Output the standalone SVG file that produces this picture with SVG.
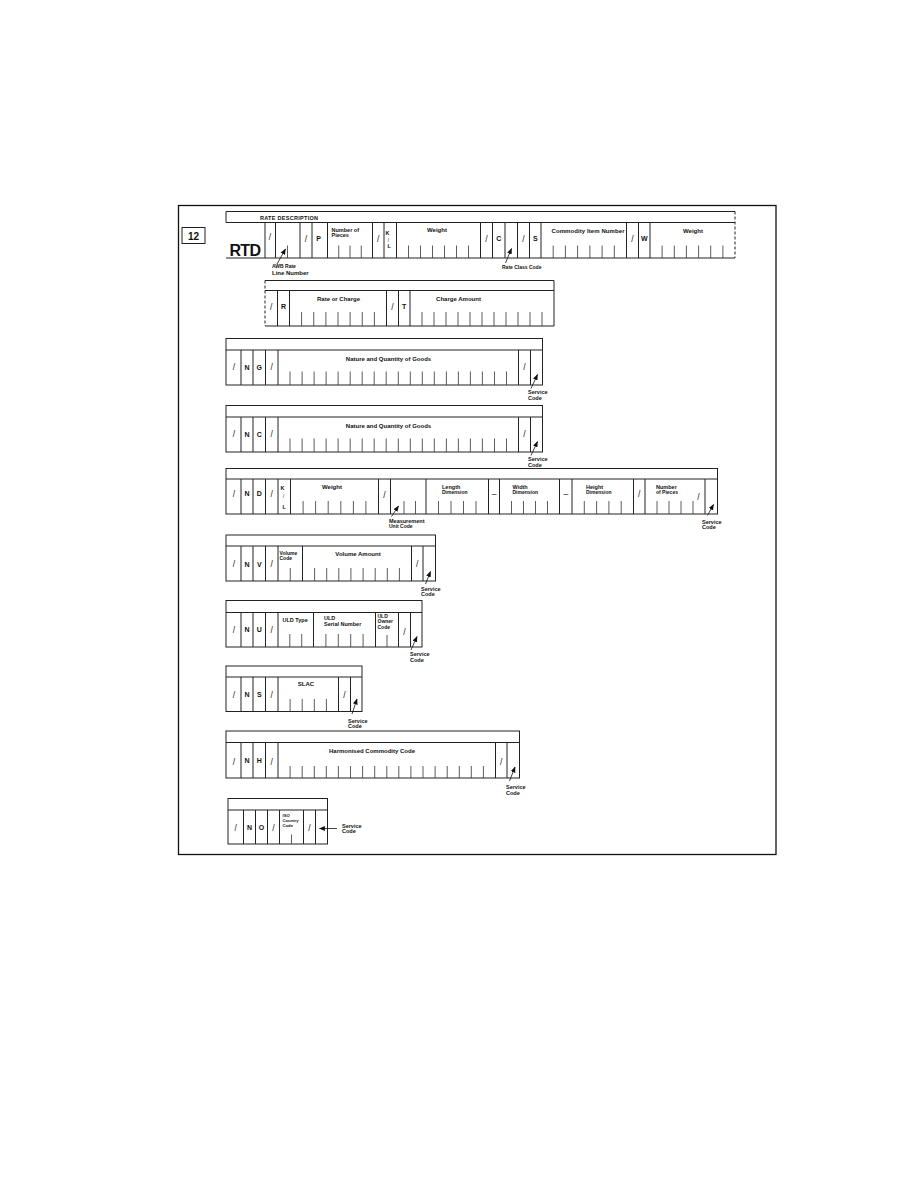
<svg xmlns="http://www.w3.org/2000/svg" width="918" height="1188" viewBox="0 0 918 1188">
<defs>
<style>
.frame{fill:none;stroke:#111;stroke-width:1.3}
.bx{fill:none;stroke:#222;stroke-width:1}
.dash{fill:none;stroke:#222;stroke-width:1;stroke-dasharray:3,2}
.tk{fill:none;stroke:#333;stroke-width:0.8}
.ar{fill:none;stroke:#111;stroke-width:0.8}
.t{font-family:"Liberation Sans",Arial,Helvetica,sans-serif;font-weight:bold;fill:#111}
.f4{font-size:4.2px}
.f5{font-size:5px}
.f55{font-size:5.5px}
.f6{font-size:6px}
.lt{font-size:7px;text-anchor:middle}
.c{text-anchor:middle}
.sl{font-family:"Liberation Sans",Arial,sans-serif;font-size:8.5px;text-anchor:middle;fill:#222}
.ss{font-size:5px}
</style>
<marker id="ah" viewBox="0 0 10 10" refX="9" refY="5" markerWidth="6" markerHeight="6" markerUnits="userSpaceOnUse" orient="auto">
<path d="M0,1 L10,5 L0,9 z" fill="#111"/>
</marker>
</defs>
<rect width="918" height="1188" fill="#fff"/>
<rect class="frame" x="178.5" y="205.5" width="597.5" height="649"/>

<g id="field-no">
<rect class="bx" x="182" y="227.5" width="23" height="16"/>
<text class="t c" x="193.5" y="239.5" font-size="10">12</text>
</g>

<g id="rtd">
<path class="bx" d="M226,211.5H735M226,222.5H735M226,258H735M226,211.5V222.5"/>
<path class="dash" d="M735,211.5V258"/>
<path class="bx" d="M265,222.5V258M275.5,222.5V258M300,222.5V258M312,222.5V258M327.5,222.5V258M372.5,222.5V258M384,222.5V258M396.5,222.5V258M480.5,222.5V258M492.5,222.5V258M505,222.5V258M517.5,222.5V258M529.5,222.5V258M541,222.5V258M626.5,222.5V258M638.5,222.5V258M650,222.5V258"/>
<path class="tk" d="M287.5,245.5V258M338.75,245.5V258M350,245.5V258M361.25,245.5V258M408.5,245.5V258M420.5,245.5V258M432.5,245.5V258M444.5,245.5V258M456.5,245.5V258M468.5,245.5V258M553.2,245.5V258M565.4,245.5V258M577.6,245.5V258M589.9,245.5V258M602.1,245.5V258M614.3,245.5V258M662.1,245.5V258M674.3,245.5V258M686.4,245.5V258M698.6,245.5V258M710.7,245.5V258M722.9,245.5V258"/>
<text class="t f55" x="260" y="219.5" textLength="58">RATE DESCRIPTION</text>
<text class="t" x="229.5" y="256" font-size="16" textLength="31.5" lengthAdjust="spacing">RTD</text>
<text class="sl" x="270" y="240">/</text>
<text class="sl" x="306" y="241.5">/</text>
<text class="sl" x="378.25" y="241.5">/</text>
<text class="sl" x="486.5" y="241.5">/</text>
<text class="sl" x="523.5" y="241.5">/</text>
<text class="sl" x="632.5" y="241.5">/</text>
<text class="t lt" x="318.5" y="240.5">P</text>
<text class="t lt" x="498.75" y="240.5">C</text>
<text class="t lt" x="535.25" y="240.5">S</text>
<text class="t lt" x="644.25" y="240.5">W</text>
<text class="t f55" x="331.5" y="232">Number of</text>
<text class="t f55" x="331.5" y="236.5">Pieces</text>
<text class="t f55" x="385.5" y="235">K</text>
<text class="sl ss" x="388.5" y="241.5">/</text>
<text class="t f55" x="387.5" y="248">L</text>
<text class="t f6 c" x="437" y="232">Weight</text>
<text class="t f6" x="551.5" y="232.5" textLength="73">Commodity Item Number</text>
<text class="t f6 c" x="693" y="232.5">Weight</text>
</g>

<g id="rate-charge">
<path class="bx" d="M265,280.5H554V326H265M265,290.5H554"/>
<path class="dash" d="M265,280.5V326"/>
<path class="bx" d="M277.5,290.5V326M289.5,290.5V326M386.5,290.5V326M398.5,290.5V326M410,290.5V326"/>
<path class="tk" d="M301.6,312V326M313.75,312V326M325.9,312V326M338,312V326M350.1,312V326M362.25,312V326M374.4,312V326M422,312V326M434,312V326M446,312V326M458,312V326M470,312V326M482,312V326M494,312V326M506,312V326M518,312V326M530,312V326M542,312V326"/>
<text class="sl" x="271.25" y="310">/</text>
<text class="sl" x="392.5" y="310">/</text>
<text class="t lt" x="283.5" y="308.5">R</text>
<text class="t lt" x="404.25" y="308.5">T</text>
<text class="t f6 c" x="338.5" y="301">Rate or Charge</text>
<text class="t f6 c" x="458.5" y="301">Charge Amount</text>
</g>

<g id="ng">
<rect class="bx" x="226" y="338.5" width="316.5" height="46.5"/>
<path class="bx" d="M226,350H542.5M241,350V385M253,350V385M265.5,350V385M278,350V385M518.5,350V385M530.5,350V385"/>
<path class="tk" d="M290,371.5V385M302.1,371.5V385M314.1,371.5V385M326.1,371.5V385M338.1,371.5V385M350.2,371.5V385M362.2,371.5V385M374.2,371.5V385M386.2,371.5V385M398.3,371.5V385M410.3,371.5V385M422.3,371.5V385M434.3,371.5V385M446.4,371.5V385M458.4,371.5V385M470.4,371.5V385M482.4,371.5V385M494.5,371.5V385M506.5,371.5V385"/>
<text class="sl" x="234" y="370">/</text>
<text class="sl" x="271.75" y="370">/</text>
<text class="sl" x="524.5" y="370">/</text>
<text class="t lt" x="247" y="369.5">N</text>
<text class="t lt" x="259.25" y="369.5">G</text>
<text class="t f6 c" x="388.5" y="361">Nature and Quantity of Goods</text>
</g>

<g id="nc" transform="translate(0,67)">
<rect class="bx" x="226" y="338.5" width="316.5" height="46.5"/>
<path class="bx" d="M226,350H542.5M241,350V385M253,350V385M265.5,350V385M278,350V385M518.5,350V385M530.5,350V385"/>
<path class="tk" d="M290,371.5V385M302.1,371.5V385M314.1,371.5V385M326.1,371.5V385M338.1,371.5V385M350.2,371.5V385M362.2,371.5V385M374.2,371.5V385M386.2,371.5V385M398.3,371.5V385M410.3,371.5V385M422.3,371.5V385M434.3,371.5V385M446.4,371.5V385M458.4,371.5V385M470.4,371.5V385M482.4,371.5V385M494.5,371.5V385M506.5,371.5V385"/>
<text class="sl" x="234" y="370">/</text>
<text class="sl" x="271.75" y="370">/</text>
<text class="sl" x="524.5" y="370">/</text>
<text class="t lt" x="247" y="369.5">N</text>
<text class="t lt" x="259.25" y="369.5">C</text>
<text class="t f6 c" x="388.5" y="361">Nature and Quantity of Goods</text>
</g>

<g id="nd">
<rect class="bx" x="226" y="468.5" width="491.5" height="45.5"/>
<path class="bx" d="M226,479H717.5M241,479V514M253,479V514M265.5,479V514M278,479V514M290.5,479V514M378.5,479V514M390.5,479V514M426,479V514M488.5,479V514M499.5,479V514M559.5,479V514M572,479V514M633.5,479V514M645,479V514M705,479V514"/>
<path class="tk" d="M303.1,501V514M315.6,501V514M328.2,501V514M340.8,501V514M353.4,501V514M365.9,501V514M404,501V514M415.5,501V514M438.5,501V514M451,501V514M463.5,501V514M476,501V514M511.5,501V514M523.5,501V514M535.5,501V514M547.5,501V514M584.3,501V514M596.6,501V514M608.9,501V514M621.2,501V514M657,501V514M669,501V514M681,501V514M693,501V514"/>
<text class="sl" x="234" y="497">/</text>
<text class="sl" x="271.75" y="497">/</text>
<text class="sl" x="384.5" y="498">/</text>
<text class="sl" x="639.25" y="497">/</text>
<text class="sl" x="698.5" y="500">/</text>
<text class="t lt" x="247" y="495.5">N</text>
<text class="t lt" x="259.25" y="495.5">D</text>
<text class="t f55" x="280.5" y="490">K</text>
<text class="sl ss" x="283.5" y="497.5">/</text>
<text class="t f55" x="282.5" y="508.5">L</text>
<text class="t f6 c" x="332" y="489">Weight</text>
<text class="t f55" x="442" y="488.5">Length</text>
<text class="t f5" x="442" y="493.5">Dimension</text>
<text class="sl" x="494" y="497">–</text>
<text class="t f55" x="512.5" y="488.5">Width</text>
<text class="t f5" x="512.5" y="493.5">Dimension</text>
<text class="sl" x="565.75" y="497">–</text>
<text class="t f55" x="586" y="488.5">Height</text>
<text class="t f5" x="586" y="493.5">Dimension</text>
<text class="t f55" x="656" y="488.5">Number</text>
<text class="t f5" x="656" y="493.5">of Pieces</text>
</g>

<g id="nv">
<rect class="bx" x="226" y="535" width="209.5" height="46"/>
<path class="bx" d="M226,546H435.5M241,546V581M253,546V581M265.5,546V581M278,546V581M302.5,546V581M411.5,546V581M423,546V581"/>
<path class="tk" d="M290.25,568V581M314.6,568V581M326.7,568V581M338.8,568V581M350.9,568V581M363.1,568V581M375.2,568V581M387.3,568V581M399.4,568V581"/>
<text class="sl" x="234" y="567">/</text>
<text class="sl" x="271.75" y="567">/</text>
<text class="sl" x="417.25" y="567">/</text>
<text class="t lt" x="247" y="566.5">N</text>
<text class="t lt" x="259.25" y="566.5">V</text>
<text class="t f5" x="279.5" y="554.5">Volume</text>
<text class="t f5" x="279.5" y="559.5">Code</text>
<text class="t f6 c" x="358" y="555.5">Volume Amount</text>
</g>

<g id="nu">
<rect class="bx" x="226" y="600.5" width="196" height="46.5"/>
<path class="bx" d="M226,612.5H422M241,612.5V647M253,612.5V647M265.5,612.5V647M278,612.5V647M313.5,612.5V647M375.5,612.5V647M398.5,612.5V647M410.5,612.5V647"/>
<path class="tk" d="M289.8,634V647M301.7,634V647M325.9,634V647M338.3,634V647M350.7,634V647M363.1,634V647M387,635V647"/>
<text class="sl" x="234" y="633">/</text>
<text class="sl" x="271.75" y="633">/</text>
<text class="sl" x="404.5" y="635">/</text>
<text class="t lt" x="247" y="631.5">N</text>
<text class="t lt" x="259.25" y="631.5">U</text>
<text class="t f55" x="282.5" y="621.5">ULD Type</text>
<text class="t f55" x="324" y="620">ULD</text>
<text class="t f55" x="324" y="626">Serial Number</text>
<text class="t f5" x="377.5" y="617.5">ULD</text>
<text class="t f5" x="377.5" y="622.5">Owner</text>
<text class="t f5" x="377.5" y="628.5">Code</text>
</g>

<g id="ns">
<rect class="bx" x="226" y="666" width="136" height="45.5"/>
<path class="bx" d="M226,677H362M241,677V711.5M253,677V711.5M265.5,677V711.5M278,677V711.5M338.5,677V711.5M350.5,677V711.5"/>
<path class="tk" d="M290.1,699V711.5M302.2,699V711.5M314.3,699V711.5M326.4,699V711.5"/>
<text class="sl" x="234" y="698">/</text>
<text class="sl" x="271.75" y="698">/</text>
<text class="sl" x="344.5" y="698">/</text>
<text class="t lt" x="247" y="696.5">N</text>
<text class="t lt" x="259.25" y="696.5">S</text>
<text class="t f6 c" x="306" y="686">SLAC</text>
</g>

<g id="nh">
<rect class="bx" x="226" y="731" width="293.5" height="47"/>
<path class="bx" d="M226,742.5H519.5M241,742.5V778M253,742.5V778M265.5,742.5V778M278,742.5V778M495.5,742.5V778M507,742.5V778"/>
<path class="tk" d="M290.1,766V778M302.2,766V778M314.3,766V778M326.3,766V778M338.4,766V778M350.5,766V778M362.6,766V778M374.7,766V778M386.8,766V778M398.8,766V778M410.9,766V778M423,766V778M435.1,766V778M447.2,766V778M459.3,766V778M471.3,766V778M483.4,766V778"/>
<text class="sl" x="234" y="765">/</text>
<text class="sl" x="271.75" y="765">/</text>
<text class="sl" x="501.25" y="765">/</text>
<text class="t lt" x="247" y="763">N</text>
<text class="t lt" x="259.25" y="763">H</text>
<text class="t f6 c" x="372" y="752.5">Harmonised Commodity Code</text>
</g>

<g id="no">
<rect class="bx" x="228" y="798.5" width="99.5" height="45.5"/>
<path class="bx" d="M228,810H327.5M243.5,810V844M255.5,810V844M267.5,810V844M279.5,810V844M303.5,810V844M315.5,810V844"/>
<path class="tk" d="M291.5,834.5V844"/>
<text class="sl" x="235.75" y="831">/</text>
<text class="sl" x="273.5" y="831">/</text>
<text class="sl" x="309.5" y="831">/</text>
<text class="t lt" x="249.5" y="830">N</text>
<text class="t lt" x="261.5" y="830">O</text>
<text class="t f4" x="282.5" y="817.3">ISO</text>
<text class="t f4" x="282.5" y="821.7">Country</text>
<text class="t f4" x="282.5" y="826.5">Code</text>
</g>

<g id="connectors">
<line class="ar" x1="277" y1="264" x2="285.5" y2="249" marker-end="url(#ah)"/>
<line class="ar" x1="505.5" y1="263" x2="511.5" y2="248.5" marker-end="url(#ah)"/>
<line class="ar" x1="531" y1="388.5" x2="537.5" y2="374.5" marker-end="url(#ah)"/>
<line class="ar" x1="531" y1="455.5" x2="537.5" y2="441.5" marker-end="url(#ah)"/>
<line class="ar" x1="391.5" y1="516.5" x2="398.5" y2="506" marker-end="url(#ah)"/>
<line class="ar" x1="707.5" y1="515.5" x2="713.5" y2="504.5" marker-end="url(#ah)"/>
<line class="ar" x1="425.5" y1="584" x2="430.5" y2="571.5" marker-end="url(#ah)"/>
<line class="ar" x1="411" y1="650" x2="417" y2="636.5" marker-end="url(#ah)"/>
<line class="ar" x1="352" y1="714" x2="357" y2="699" marker-end="url(#ah)"/>
<line class="ar" x1="509.5" y1="781" x2="515" y2="767" marker-end="url(#ah)"/>
<line class="ar" x1="337" y1="828.5" x2="319.5" y2="828.5" marker-end="url(#ah)"/>
</g>

<g id="labels">
<text class="t f5" x="272" y="268">AWB Rate</text>
<text class="t f6" x="272" y="275">Line Number</text>
<text class="t f5" x="502" y="268.5">Rate Class Code</text>
<text class="t f55" x="528" y="394">Service</text>
<text class="t f55" x="528" y="400">Code</text>
<text class="t f55" x="528" y="461">Service</text>
<text class="t f55" x="528" y="467">Code</text>
<text class="t f55" x="389" y="522.5">Measurement</text>
<text class="t f5" x="389" y="528">Unit Code</text>
<text class="t f55" x="702" y="523.5">Service</text>
<text class="t f55" x="702" y="529">Code</text>
<text class="t f55" x="421" y="590.5">Service</text>
<text class="t f55" x="421" y="596">Code</text>
<text class="t f55" x="410" y="656">Service</text>
<text class="t f55" x="410" y="661.5">Code</text>
<text class="t f55" x="348" y="722.5">Service</text>
<text class="t f55" x="348" y="728">Code</text>
<text class="t f55" x="506" y="789">Service</text>
<text class="t f55" x="506" y="795">Code</text>
<text class="t f55" x="342" y="827.5">Service</text>
<text class="t f55" x="342" y="832.5">Code</text>
</g>
</svg>
